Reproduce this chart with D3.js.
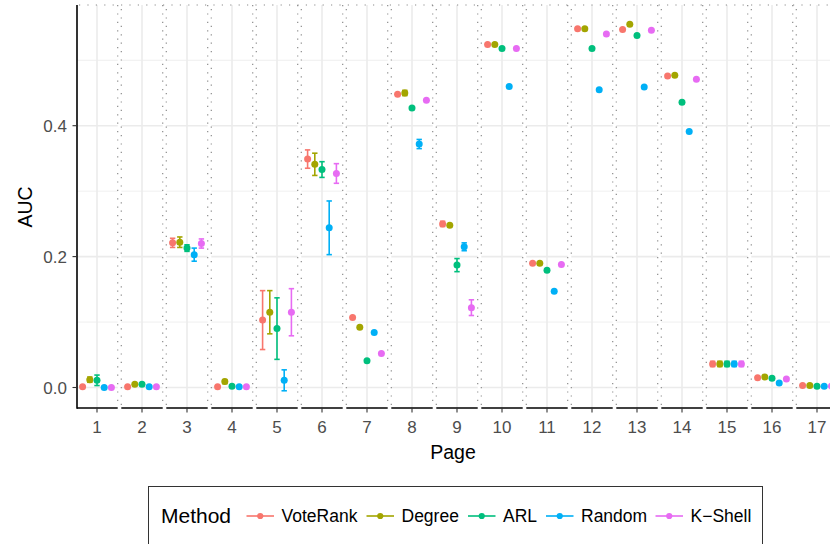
<!DOCTYPE html>
<html>
<head>
<meta charset="utf-8">
<script src="https://cdn.jsdelivr.net/npm/d3@7"></script>
<style>
  html, body { margin: 0; padding: 0; background: #fff; }
  svg { display: block; font-family: "Liberation Sans", Arial, Helvetica, sans-serif; }
</style>
</head>
<body>
<svg id="chart" width="830" height="544"></svg>
<script>
// ---------- data ----------
const pages = [1, 2, 3, 4, 5, 6, 7, 8, 9, 10, 11, 12, 13, 14, 15, 16, 17];
const methods = ["VoteRank", "Degree", "ARL", "Random", "K\u2212Shell"];
const colors = ["#F8766D", "#A3A500", "#00BF7D", "#00B0F6", "#E76BF3"];
const yTicks = [0.0, 0.2, 0.4];
const yMinor = [0.1, 0.3, 0.5];

const voteRank   = [0.001, 0.001, 0.221, 0.001, 0.103, 0.349, 0.107, 0.448, 0.250, 0.524, 0.190, 0.548, 0.547, 0.476, 0.036, 0.015, 0.003];
const voteRankSd = [0, 0, 0.007, 0, 0.045, 0.014, 0, 0, 0.004, 0, 0, 0, 0, 0, 0.004, 0, 0];
const degree     = [0.012, 0.005, 0.222, 0.009, 0.115, 0.341, 0.092, 0.450, 0.248, 0.524, 0.190, 0.548, 0.555, 0.477, 0.036, 0.016, 0.003];
const degreeSd   = [0.004, 0, 0.008, 0.003, 0.033, 0.017, 0, 0.004, 0, 0, 0, 0, 0, 0, 0.004, 0, 0];
const arl        = [0.011, 0.005, 0.213, 0.002, 0.090, 0.333, 0.041, 0.427, 0.187, 0.518, 0.179, 0.518, 0.538, 0.436, 0.036, 0.014, 0.002];
const arlSd      = [0.008, 0, 0.005, 0, 0.047, 0.012, 0, 0, 0.010, 0, 0, 0, 0, 0, 0.004, 0, 0];
const random     = [0.000, 0.001, 0.203, 0.001, 0.011, 0.244, 0.084, 0.372, 0.215, 0.460, 0.147, 0.455, 0.459, 0.391, 0.036, 0.007, 0.002];
const randomSd   = [0, 0, 0.010, 0, 0.016, 0.041, 0, 0.007, 0.006, 0, 0, 0, 0, 0, 0.004, 0, 0];
const kShell     = [0.000, 0.001, 0.220, 0.001, 0.115, 0.327, 0.052, 0.439, 0.122, 0.518, 0.188, 0.540, 0.546, 0.471, 0.036, 0.013, 0.002];
const kShellSd   = [0, 0, 0.007, 0, 0.036, 0.015, 0, 0, 0.012, 0, 0, 0, 0, 0, 0.004, 0, 0];

const seriesValues = [voteRank, degree, arl, random, kShell];
const seriesSd = [voteRankSd, degreeSd, arlSd, randomSd, kShellSd];

// ---------- layout ----------
const svg = d3.select("#chart");
const panel = { left: 77, right: 837, top: 5, bottom: 408 };

const x = d3.scaleLinear().domain([0.5556, 17.4444]).range([panel.left, panel.right]);
const y = d3.scaleLinear().domain([0, 0.4]).range([387.5, 125.7]);
const dodge = d3.scaleBand().domain(methods).range([-0.4, 0.4]);
const color = d3.scaleOrdinal().domain(methods).range(colors);

const records = [];
methods.forEach((m, mi) => {
  pages.forEach((p, pi) => {
    records.push({ method: m, page: p, value: seriesValues[mi][pi], sd: seriesSd[mi][pi] });
  });
});
const px = d => x(d.page + dodge(d.method) + dodge.bandwidth() / 2);

// gridlines
const grid = svg.append("g");
grid.selectAll(".ymin").data(yMinor).join("line")
  .attr("x1", panel.left).attr("x2", 830)
  .attr("y1", d => y(d)).attr("y2", d => y(d))
  .attr("stroke", "#EBEBEB").attr("stroke-width", 0.8);
grid.selectAll(".ymaj").data(yTicks).join("line")
  .attr("x1", panel.left).attr("x2", 830)
  .attr("y1", d => y(d)).attr("y2", d => y(d))
  .attr("stroke", "#EBEBEB").attr("stroke-width", 1.6);
grid.selectAll(".xmaj").data(pages).join("line")
  .attr("x1", d => x(d)).attr("x2", d => x(d))
  .attr("y1", panel.top).attr("y2", panel.bottom)
  .attr("stroke", "#EBEBEB").attr("stroke-width", 1.6);

// x axis line
svg.append("line").attr("x1", panel.left).attr("x2", 830)
  .attr("y1", panel.bottom).attr("y2", panel.bottom)
  .attr("stroke", "#000").attr("stroke-width", 1.6);

// page separators (white strips with dotted edges)
const seps = pages.slice(0, -1).map(p => p + 0.5);
const sepG = svg.append("g");
sepG.selectAll("rect").data(seps).join("rect")
  .attr("x", d => x(d - 0.04)).attr("width", d => x(d + 0.04) - x(d - 0.04))
  .attr("y", panel.top).attr("height", panel.bottom - panel.top + 2)
  .attr("fill", "#fff");
[-0.04, 0.04].forEach((o, k) => {
  sepG.selectAll(".e" + k).data(seps).join("line")
    .attr("x1", d => x(d + o)).attr("x2", d => x(d + o))
    .attr("y1", panel.top + (k ? 4 : 0)).attr("y2", panel.bottom - 2)
    .attr("stroke", "#8C8C8C").attr("stroke-width", 1.2)
    .attr("stroke-dasharray", "1.2,7.2");
});
svg.append("line").attr("x1", panel.left + 2).attr("x2", 830)
  .attr("y1", panel.top).attr("y2", panel.top)
  .attr("stroke", "#8C8C8C").attr("stroke-width", 1.2)
  .attr("stroke-dasharray", "1.2,7.2");

// y axis
svg.append("line").attr("x1", panel.left).attr("x2", panel.left)
  .attr("y1", panel.top).attr("y2", panel.bottom + 0.8)
  .attr("stroke", "#000").attr("stroke-width", 1.6);
const yAxis = svg.append("g");
yAxis.selectAll("line").data(yTicks).join("line")
  .attr("x1", panel.left - 4.5).attr("x2", panel.left)
  .attr("y1", d => y(d)).attr("y2", d => y(d))
  .attr("stroke", "#333").attr("stroke-width", 1.1);
yAxis.selectAll("text").data(yTicks).join("text")
  .attr("x", 67).attr("y", d => y(d) + 6)
  .attr("text-anchor", "end").attr("font-size", 17).attr("fill", "#4D4D4D")
  .text(d => d3.format(".1f")(d));

// x axis ticks
const xAxis = svg.append("g");
xAxis.selectAll("line").data(pages).join("line")
  .attr("x1", d => x(d)).attr("x2", d => x(d))
  .attr("y1", panel.bottom).attr("y2", panel.bottom + 4.5)
  .attr("stroke", "#333").attr("stroke-width", 1.1);
xAxis.selectAll("text").data(pages).join("text")
  .attr("x", d => x(d)).attr("y", 432.5)
  .attr("text-anchor", "middle").attr("font-size", 17).attr("fill", "#4D4D4D")
  .text(d => d);

// titles
svg.append("text").attr("x", 453).attr("y", 459)
  .attr("text-anchor", "middle").attr("font-size", 19.5).attr("fill", "#000").text("Page");
svg.append("text").attr("transform", "translate(32,207) rotate(-90)")
  .attr("text-anchor", "middle").attr("font-size", 19.5).attr("fill", "#000").text("AUC");

// error bars
const eb = svg.append("g");
const ebData = records.filter(d => d.sd > 0);
eb.selectAll(".v").data(ebData).join("line")
  .attr("x1", px).attr("x2", px)
  .attr("y1", d => y(d.value - d.sd)).attr("y2", d => y(d.value + d.sd))
  .attr("stroke", d => color(d.method)).attr("stroke-width", 1.6);
["lo", "hi"].forEach(k => {
  eb.selectAll("." + k).data(ebData).join("line")
    .attr("x1", d => px(d) - 2.7).attr("x2", d => px(d) + 2.7)
    .attr("y1", d => y(k === "lo" ? d.value - d.sd : d.value + d.sd))
    .attr("y2", d => y(k === "lo" ? d.value - d.sd : d.value + d.sd))
    .attr("stroke", d => color(d.method)).attr("stroke-width", 1.6);
});

// points
svg.append("g").selectAll("circle").data(records).join("circle")
  .attr("cx", px).attr("cy", d => y(d.value)).attr("r", 3.5)
  .attr("fill", d => color(d.method));

// legend
const lg = svg.append("g");
lg.append("rect").attr("x", 148.5).attr("y", 486.5).attr("width", 614).attr("height", 80)
  .attr("fill", "#fff").attr("stroke", "#333").attr("stroke-width", 1);
lg.append("text").attr("x", 161).attr("y", 523).attr("font-size", 21).attr("fill", "#000").text("Method");
const keyX = [246.5, 366.5, 468, 546, 655.5];
methods.forEach((m, i) => {
  const g = lg.append("g").attr("transform", `translate(${keyX[i]},516)`);
  g.append("line").attr("x1", 0).attr("x2", 27.5).attr("y1", 0).attr("y2", 0)
    .attr("stroke", color(m)).attr("stroke-width", 1.6);
  g.append("circle").attr("cx", 13.75).attr("cy", 0).attr("r", 3.1).attr("fill", color(m));
  g.append("text").attr("x", 35).attr("y", 6.2).attr("font-size", 17.5).attr("fill", "#000").text(m);
});
</script>
</body>
</html>
